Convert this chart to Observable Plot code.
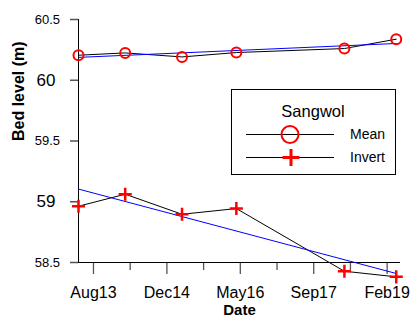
<!DOCTYPE html>
<html><head><meta charset="utf-8">
<script src="https://cdn.jsdelivr.net/npm/d3@7"></script>
<script src="https://cdn.jsdelivr.net/npm/@observablehq/plot@0.6"></script>
<style>
body{margin:0;background:#fff;}
#wrap{position:relative;width:410px;height:318px;overflow:hidden;font-family:"Liberation Sans",Arial,sans-serif;background:#fff;}
#wrap > svg.plot{position:absolute;left:0;top:0;}
#legend{position:absolute;left:231px;top:89px;width:165px;height:86px;border:1px solid #000;background:#fff;box-sizing:border-box;}
#legsym{position:absolute;left:0;top:0;pointer-events:none;}
.lt{position:absolute;color:#000;line-height:1;white-space:nowrap;}
</style></head><body><div id="wrap"></div>
<script>
// data
const dates = ["2013-05-04","2014-03-18","2015-04-09","2016-04-13","2018-04-19","2019-04-07"];
const meanLevel = [60.206,60.225,60.192,60.228,60.261,60.338];
const invertLevel = [58.963,59.062,58.897,58.944,58.428,58.382];
const majorTicks = ["2013-08-14","2014-12-27","2016-05-10","2017-09-22","2019-02-04"];
const minorTicks = ["2014-04-21","2015-09-03","2017-01-15","2018-05-30"];
const yTicksMajor = [59,60];
const yTicksHalf = [58.5,59.5,60.5];
const xDomain = ["2013-05-04","2019-05-06"];
const yDomain = [58.5,60.5];
const seriesNames = ["Mean","Invert"];
const legendTitle = "Sangwol";

const t = s => Date.parse(s + "T00:00:00Z");
const rows = dates.map((d,i)=>({date:t(d), mean:meanLevel[i], invert:invertLevel[i]}));
const fmt = d3.utcFormat("%b%y");

const chart = Plot.plot({
  width:410, height:318,
  marginLeft:78, marginRight:10, marginTop:19, marginBottom:56,
  style:{fontFamily:"'Liberation Sans', Arial, sans-serif", fontSize:"14px", color:"#000", background:"#fff", overflow:"visible"},
  x:{type:"utc", domain:xDomain.map(t)},
  y:{domain:yDomain},
  marks:[
    Plot.axisY({ticks:yTicksMajor, tickSize:8, tickPadding:15, tickFormat:d=>String(d), label:null, stroke:"#555", strokeWidth:1.5, fontSize:17}),
    Plot.axisY({ticks:yTicksHalf, tickSize:8, tickPadding:10.5, tickFormat:d=>String(d), label:null, stroke:"#555", strokeWidth:1.5, fontSize:13}),
    Plot.axisX({ticks:majorTicks.map(t), tickSize:12, tickPadding:12.5, tickFormat:d=>fmt(new Date(d)), label:null, stroke:"#555", strokeWidth:1.3, fontSize:16}),
    Plot.axisX({ticks:minorTicks.map(t), tickSize:8, tickFormat:()=>"", label:null, stroke:"#555", strokeWidth:1.3}),
    Plot.ruleY([yDomain[0]], {stroke:"#000"}),
    Plot.ruleX([t(xDomain[0])], {stroke:"#000"}),
    Plot.text(["Bed level (m)"], {frameAnchor:"left", dx:-60, rotate:-90, fontWeight:"bold", fontSize:16}),
    Plot.text(["Date"], {frameAnchor:"bottom", dy:42.3, lineAnchor:"top", fontWeight:"bold", fontSize:15}),
    Plot.lineY(rows, {x:"date", y:"mean", stroke:"#000", strokeWidth:1}),
    Plot.lineY(rows, {x:"date", y:"invert", stroke:"#000", strokeWidth:1}),
    Plot.linearRegressionY(rows, {x:"date", y:"mean", stroke:"#0000ff", strokeWidth:1, ci:0}),
    Plot.linearRegressionY(rows, {x:"date", y:"invert", stroke:"#0000ff", strokeWidth:1, ci:0}),
    Plot.dot(rows, {x:"date", y:"mean", r:5, stroke:"#ff0000", strokeWidth:2, fill:"none"}),
    Plot.dot(rows, {x:"date", y:"invert", r:4.3, symbol:"plus", stroke:"#ff0000", strokeWidth:2.5})
  ]
});
chart.classList.add("plot");
const wrap = document.getElementById("wrap");
wrap.appendChild(chart);

// legend
const leg = document.createElement("div");
leg.id = "legend";
wrap.appendChild(leg);
const sv = d3.select(wrap).append("svg").attr("id","legsym").attr("width",410).attr("height",318);
sv.append("line").attr("x1",246).attr("x2",334).attr("y1",134.5).attr("y2",134.5).attr("stroke","#000");
sv.append("line").attr("x1",246).attr("x2",334).attr("y1",157.5).attr("y2",157.5).attr("stroke","#000");
sv.append("circle").attr("cx",290).attr("cy",134.5).attr("r",8.5).attr("fill","none").attr("stroke","#ff0000").attr("stroke-width",2);
sv.append("path").attr("d","M282.5,157.5H299.5M291,149V166").attr("stroke","#ff0000").attr("stroke-width",3).attr("fill","none");
function addText(txt, left, cy, size, anchor){
  const s = document.createElement("div");
  s.className = "lt"; s.textContent = txt;
  s.style.fontSize = size + "px";
  s.style.top = (cy - size/2) + "px";
  if (anchor === "middle") { s.style.left = (left - 100) + "px"; s.style.width = "200px"; s.style.textAlign = "center"; }
  else s.style.left = left + "px";
  wrap.appendChild(s);
}
addText(legendTitle, 313, 111, 16.5, "middle");
addText(seriesNames[0], 350, 134, 14);
addText(seriesNames[1], 350, 157, 14);
</script>
</body></html>
